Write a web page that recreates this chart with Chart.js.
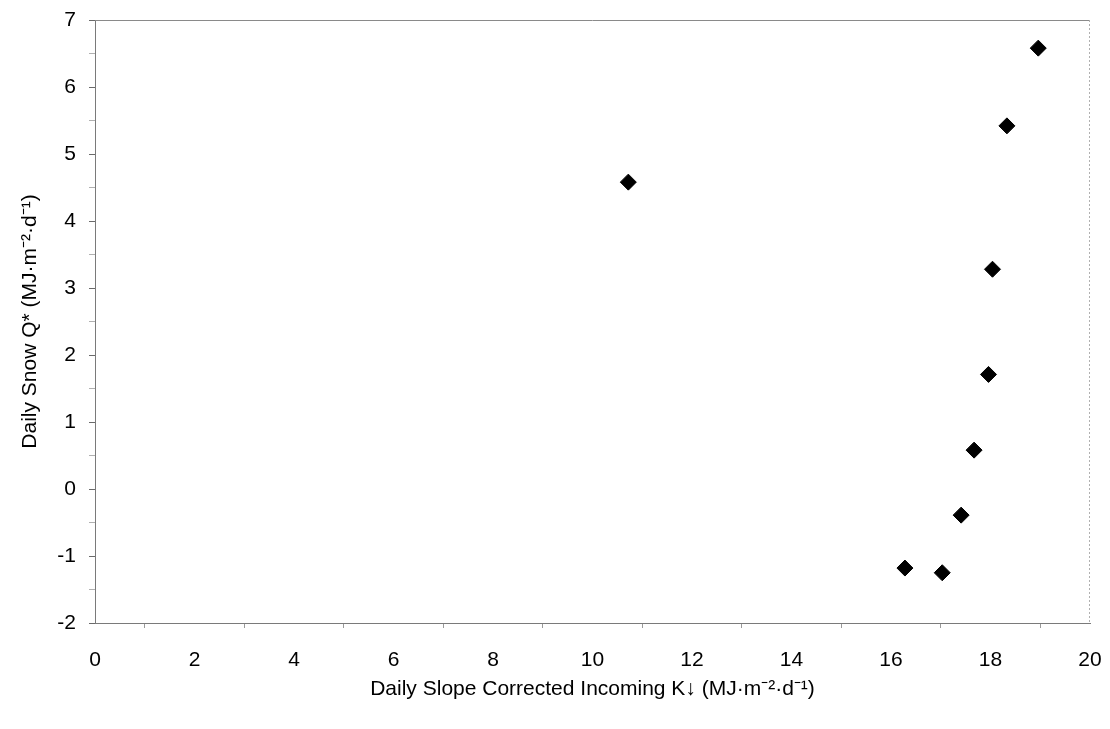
<!DOCTYPE html>
<html>
<head>
<meta charset="utf-8">
<script src="https://cdn.jsdelivr.net/npm/chart.js@4/dist/chart.umd.min.js"></script>
<style>
  html, body { margin: 0; padding: 0; background: #fff; }
  #wrap { width: 1110px; height: 729px; }
</style>
</head>
<body>
<div id="wrap"><canvas id="snowChart" width="1110" height="729"></canvas></div>
<script>
// Datos
const incomingK = [10.72, 16.28, 17.03, 17.41, 17.67, 17.96, 18.04, 18.33, 18.96];
const snowQ = [4.58, -1.18, -1.25, -0.39, 0.58, 1.71, 3.28, 5.42, 6.58];

const xTitle = 'Daily Slope Corrected Incoming K\u2193 (MJ\u00b7m\u207b\u00b2\u00b7d\u207b\u00b9)';
const yTitle = 'Daily Snow Q* (MJ\u00b7m\u207b\u00b2\u00b7d\u207b\u00b9)';

const points = incomingK.map((x, i) => ({ x: x, y: snowQ[i] }));

// Borde superior sólido y borde derecho punteado
const frameBorder = {
    id: 'frameBorder',
    afterDraw(chart) {
        const { ctx, chartArea: a } = chart;
        ctx.save();
        ctx.strokeStyle = '#8a8a8a';
        ctx.lineWidth = 1;
        ctx.beginPath();
        ctx.moveTo(a.left, a.top + 0.5);
        ctx.lineTo(a.right, a.top + 0.5);
        ctx.stroke();
        ctx.strokeStyle = '#b0b0b0';
        ctx.setLineDash([2, 2]);
        ctx.beginPath();
        ctx.moveTo(a.right - 0.5, a.top);
        ctx.lineTo(a.right - 0.5, a.bottom);
        ctx.stroke();
        ctx.restore();
    }
};

new Chart(document.getElementById('snowChart'), {
    type: 'scatter',
    data: {
        datasets: [{
            data: points,
            pointStyle: 'rectRot',
            pointRadius: 8,
            pointHoverRadius: 8,
            backgroundColor: '#000',
            borderColor: '#000',
            borderWidth: 1
        }]
    },
    options: {
        responsive: false,
        animation: false,
        layout: { padding: { top: 20, right: 20, left: 0, bottom: 0 } },
        plugins: { legend: { display: false }, tooltip: { enabled: false } },
        scales: {
            x: {
                min: 0, max: 20,
                afterFit: s => { s.height = 106; s.paddingLeft = 0; s.paddingRight = 0; },
                border: { color: '#7a7a7a', width: 1 },
                grid: {
                    drawOnChartArea: false,
                    tickLength: 5,
                    color: c => (c.tick && c.tick.value % 2 === 0) ? 'rgba(0,0,0,0)' : '#9a9a9a'
                },
                ticks: {
                    stepSize: 1,
                    autoSkip: false,
                    maxRotation: 0,
                    padding: 20,
                    color: '#000',
                    font: { family: 'Liberation Sans, Arial, sans-serif', size: 21 },
                    callback: v => (v % 2 === 0 ? String(v) : '')
                },
                title: {
                    display: true,
                    text: xTitle,
                    color: '#000',
                    font: { family: 'Liberation Sans, Arial, sans-serif', size: 21 },
                    padding: { top: 0, bottom: 27 }
                }
            },
            y: {
                min: -2, max: 7,
                afterFit: s => { s.width = 95; s.paddingTop = 0; s.paddingBottom = 0; },
                border: { color: '#7a7a7a', width: 1 },
                grid: {
                    drawOnChartArea: false,
                    tickLength: 6,
                    color: c => (c.tick && Number.isInteger(c.tick.value)) ? '#6a6a6a' : '#b0b0b0'
                },
                ticks: {
                    stepSize: 0.5,
                    autoSkip: false,
                    padding: 13,
                    color: '#000',
                    font: { family: 'Liberation Sans, Arial, sans-serif', size: 21 },
                    callback: v => (Number.isInteger(v) ? String(v) : '')
                },
                title: {
                    display: true,
                    text: yTitle,
                    color: '#000',
                    font: { family: 'Liberation Sans, Arial, sans-serif', size: 21 },
                    padding: { top: 18, bottom: 0 }
                }
            }
        }
    },
    plugins: [frameBorder]
});
</script>
</body>
</html>
